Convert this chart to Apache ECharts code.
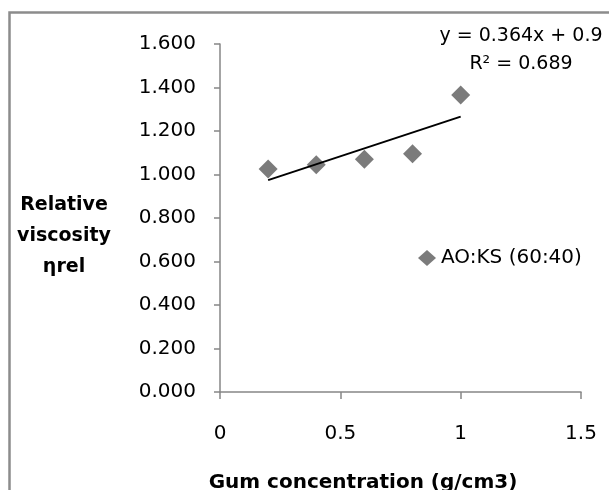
<!DOCTYPE html>
<html>
<head>
<meta charset="utf-8">
<script src="https://cdn.jsdelivr.net/npm/echarts@6/dist/echarts.min.js"></script>
<style>html,body{margin:0;padding:0;background:#fff;}#c{width:609px;height:490px;}</style>
</head>
<body>
<div id="c"></div>
<script>
var concentrations = [0.2, 0.4, 0.6, 0.8, 1.0];
var viscosity = [1.025, 1.045, 1.070, 1.095, 1.365];
var seriesName = 'AO:KS (60:40)';
var equationText = 'y = 0.364x + 0.9';
var r2Text = 'R\u00b2 = 0.689';
var xTitle = 'Gum concentration (g/cm3)';
var yTitle = 'Relative\nviscosity\n\u03b7rel';

// least-squares trendline computed from the data
var n = concentrations.length, mx = 0, my = 0;
for (var i = 0; i < n; i++) { mx += concentrations[i]; my += viscosity[i]; }
mx /= n; my /= n;
var sxy = 0, sxx = 0;
for (var i = 0; i < n; i++) { sxy += (concentrations[i]-mx)*(viscosity[i]-my); sxx += (concentrations[i]-mx)*(concentrations[i]-mx); }
var slope = sxy / sxx, intercept = my - slope * mx;
var xMin = Math.min.apply(null, concentrations), xMax = Math.max.apply(null, concentrations);
var trend = [[xMin, intercept + slope * xMin], [xMax, intercept + slope * xMax]];

var font = 'DejaVu Sans';
var axisColor = '#868686';
var chart = echarts.init(document.getElementById('c'), null, {renderer: 'canvas'});
chart.setOption({
  animation: false,
  backgroundColor: '#fff',
  grid: {left: 220, right: 28, top: 44, bottom: 98, containLabel: false},
  xAxis: {
    type: 'value', min: 0, max: 1.5, interval: 0.5,
    axisLine: {show: true, onZero: false, lineStyle: {color: axisColor, width: 1.5}},
    axisTick: {show: true, inside: false, length: 7, lineStyle: {color: axisColor, width: 1.5}},
    axisLabel: {color: '#000', fontFamily: font, fontSize: 20, margin: 32},
    splitLine: {show: false}
  },
  yAxis: {
    type: 'value', min: 0, max: 1.6, interval: 0.2,
    axisLine: {show: true, onZero: false, lineStyle: {color: axisColor, width: 1.5}},
    axisTick: {show: true, inside: false, length: 6, lineStyle: {color: axisColor, width: 1.5}},
    axisLabel: {color: '#000', fontFamily: font, fontSize: 20, margin: 24,
      formatter: function (v) { return v.toFixed(3); }},
    splitLine: {show: false}
  },
  legend: {
    left: 413, top: 243, orient: 'vertical',
    itemWidth: 18, itemHeight: 16, itemGap: 4,
    textStyle: {color: '#000', fontFamily: font, fontSize: 20},
    data: [{name: seriesName, icon: 'diamond'}]
  },
  series: [
    {
      name: seriesName, type: 'scatter', symbol: 'diamond', symbolSize: 19,
      itemStyle: {color: '#5a5a5a'},
      data: concentrations.map(function (x, i) { return [x, viscosity[i]]; }),
      z: 3
    },
    {
      name: 'trend', type: 'line', data: trend, symbol: 'none',
      lineStyle: {color: '#000', width: 2}, z: 4, silent: true
    }
  ],
  graphic: [
    {type: 'rect', shape: {x: 9.5, y: 12.5, width: 800, height: 700},
      style: {fill: 'none', stroke: '#8c8c8c', lineWidth: 2.5}, z: 0},
    {type: 'text', x: 521, y: 36, style: {text: equationText, font: '19px "DejaVu Sans"', fill: '#000', textAlign: 'center', textVerticalAlign: 'middle'}},
    {type: 'text', x: 521, y: 64, style: {text: r2Text, font: '19px "DejaVu Sans"', fill: '#000', textAlign: 'center', textVerticalAlign: 'middle'}},
    {type: 'text', x: 64, y: 236, style: {text: yTitle, font: 'bold 19px "DejaVu Sans"', fill: '#000', textAlign: 'center', textVerticalAlign: 'middle', lineHeight: 31}},
    {type: 'text', x: 363, y: 483, style: {text: xTitle, font: 'bold 20px "DejaVu Sans"', fill: '#000', textAlign: 'center', textVerticalAlign: 'middle'}}
  ]
});
</script>
</body>
</html>
